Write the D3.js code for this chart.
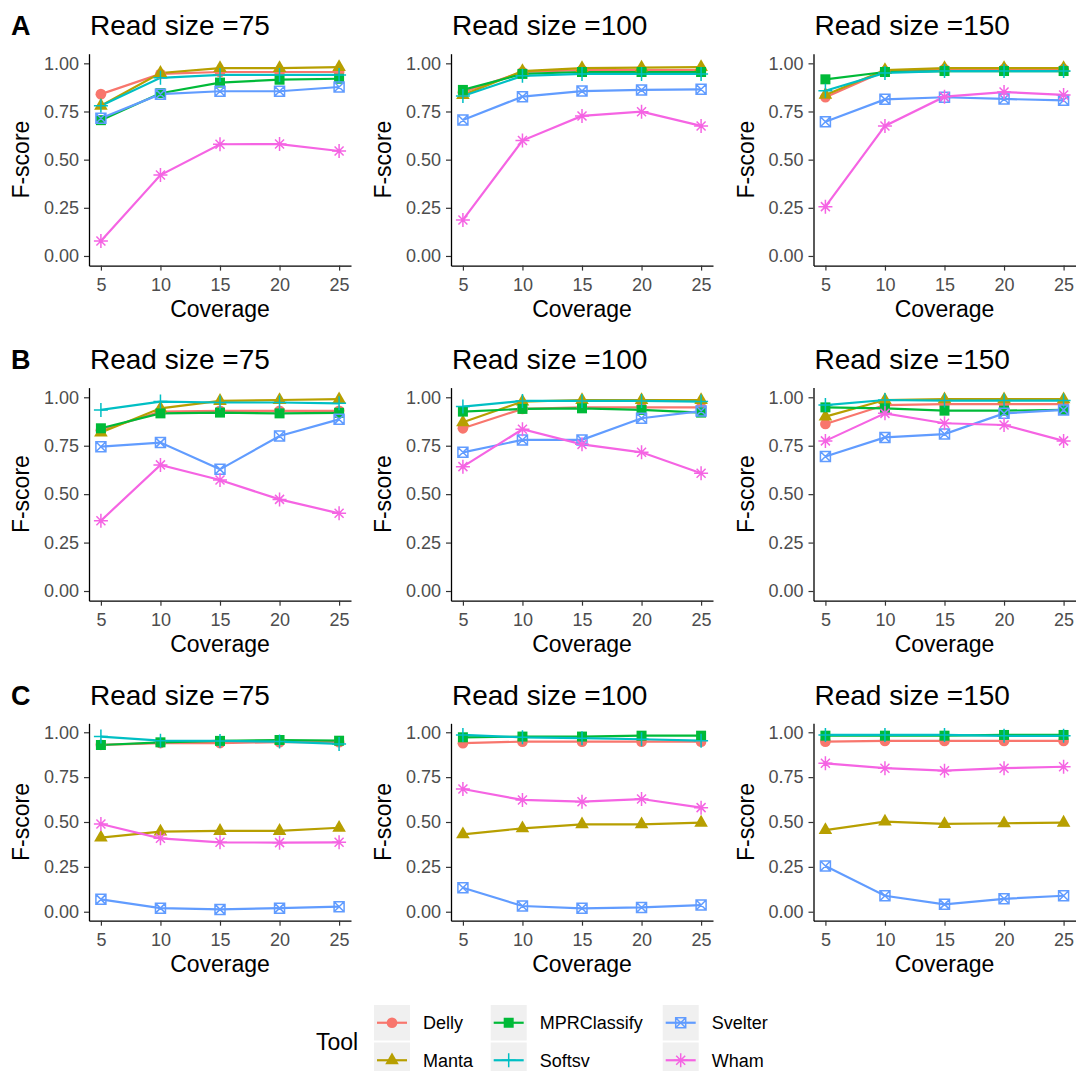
<!DOCTYPE html>
<html>
<head>
<meta charset="utf-8">
<script src="https://cdn.jsdelivr.net/npm/d3@7"></script>
<style>
  body { margin: 0; background: #fff; }
  svg { display: block; font-family: "Liberation Sans", Arial, sans-serif; }
</style>
</head>
<body>
<div id="chart"></div>
<script>
// data
const coverage = [5, 10, 15, 20, 25];
const tools = ["Delly", "Manta", "MPRClassify", "Softsv", "Svelter", "Wham"];
const toolColors = ["#F8766D", "#B79F00", "#00BA38", "#00BFC4", "#619CFF", "#F564E3"];
const toolShapes = ["circle", "triangle", "square", "plus", "squareCross", "asterisk"];
const readSizes = [75, 100, 150];
const rowLabels = ["A", "B", "C"];
const yTicks = [0, 0.25, 0.5, 0.75, 1];

// each panel: one row per tool, in the order of `tools`
const rowA75 = [
    [0.84, 0.945, 0.955, 0.955, 0.955],
    [0.78, 0.95, 0.975, 0.975, 0.98],
    [0.705, 0.845, 0.90, 0.915, 0.92],
    [0.78, 0.925, 0.94, 0.94, 0.94],
    [0.715, 0.84, 0.855, 0.855, 0.877],
    [0.078, 0.42, 0.58, 0.581, 0.545]
];
const rowA100 = [
    [0.85, 0.955, 0.965, 0.965, 0.965],
    [0.835, 0.96, 0.975, 0.978, 0.98],
    [0.862, 0.945, 0.955, 0.955, 0.955],
    [0.83, 0.935, 0.945, 0.945, 0.945],
    [0.706, 0.827, 0.856, 0.862, 0.865],
    [0.187, 0.599, 0.727, 0.749, 0.675]
];
const rowA150 = [
    [0.824, 0.96, 0.97, 0.97, 0.97],
    [0.836, 0.965, 0.975, 0.975, 0.975],
    [0.917, 0.955, 0.96, 0.96, 0.96],
    [0.858, 0.95, 0.96, 0.96, 0.96],
    [0.697, 0.813, 0.824, 0.815, 0.808],
    [0.256, 0.675, 0.827, 0.851, 0.836]
];
const rowB75 = [
    [0.83, 0.926, 0.93, 0.93, 0.93],
    [0.818, 0.943, 0.981, 0.986, 0.99],
    [0.84, 0.917, 0.921, 0.917, 0.92],
    [0.935, 0.978, 0.973, 0.973, 0.969],
    [0.745, 0.766, 0.628, 0.80, 0.886],
    [0.363, 0.651, 0.573, 0.473, 0.401]
];
const rowB100 = [
    [0.84, 0.94, 0.948, 0.948, 0.948],
    [0.871, 0.978, 0.986, 0.986, 0.986],
    [0.926, 0.94, 0.943, 0.935, 0.921],
    [0.952, 0.981, 0.981, 0.981, 0.978],
    [0.716, 0.78, 0.78, 0.892, 0.929],
    [0.642, 0.835, 0.757, 0.716, 0.608]
];
const rowB150 = [
    [0.862, 0.96, 0.965, 0.965, 0.965],
    [0.90, 0.986, 0.99, 0.99, 0.99],
    [0.948, 0.943, 0.931, 0.931, 0.935],
    [0.96, 0.986, 0.983, 0.983, 0.983],
    [0.694, 0.793, 0.81, 0.917, 0.935],
    [0.775, 0.917, 0.866, 0.857, 0.775]
];
const rowC75 = [
    [0.93, 0.94, 0.94, 0.945, 0.945],
    [0.413, 0.446, 0.45, 0.45, 0.468],
    [0.929, 0.944, 0.952, 0.957, 0.953],
    [0.976, 0.953, 0.952, 0.948, 0.935],
    [0.069, 0.02, 0.013, 0.02, 0.028],
    [0.489, 0.409, 0.387, 0.385, 0.387]
];
const rowC100 = [
    [0.939, 0.948, 0.948, 0.948, 0.948],
    [0.431, 0.465, 0.487, 0.487, 0.496],
    [0.972, 0.976, 0.976, 0.981, 0.981],
    [0.985, 0.972, 0.967, 0.961, 0.953],
    [0.134, 0.032, 0.019, 0.024, 0.037],
    [0.684, 0.623, 0.613, 0.628, 0.58]
];
const rowC150 = [
    [0.948, 0.952, 0.952, 0.952, 0.952],
    [0.455, 0.502, 0.489, 0.493, 0.496],
    [0.981, 0.981, 0.981, 0.985, 0.985],
    [0.985, 0.985, 0.985, 0.98, 0.98],
    [0.255, 0.089, 0.041, 0.072, 0.089],
    [0.827, 0.80, 0.786, 0.80, 0.808]
];
const panelData = [
    [rowA75, rowA100, rowA150],
    [rowB75, rowB100, rowB150],
    [rowC75, rowC100, rowC150]
];

const width = 1078, height = 1071;

// panel geometry (pixel positions of the axis frames)
const colLeft = [89, 451, 813.5];
const panelWidth = 262;
const rowTop = [53.7, 387.6, 723.3];
const rowBottom = [265.6, 600.7, 920.7];

const svg = d3.select("#chart").append("svg")
    .attr("width", width)
    .attr("height", height);

// marker path for a given ggplot-like shape, centred on 0,0
function markerPath(shape) {
    const s = 6;
    switch (shape) {
        case "circle": return d3.symbol(d3.symbolCircle, 90)();
        case "triangle": return d3.symbol(d3.symbolTriangle, 80)();
        case "square": return d3.symbol(d3.symbolSquare, 100)();
        case "plus": return `M${-s - 1},0H${s + 1}M0,${-s - 1}V${s + 1}`;
        case "squareCross": {
            const h = 5;
            return `M${-h},${-h}H${h}V${h}H${-h}ZM${-h},${-h}L${h},${h}M${h},${-h}L${-h},${h}`;
        }
        case "asterisk": {
            const d = s * 0.75;
            return `M${-s - 1},0H${s + 1}M0,${-s - 1}V${s + 1}M${-d},${-d}L${d},${d}M${d},${-d}L${-d},${d}`;
        }
    }
}

function drawMarker(g, shape, color) {
    const filled = shape === "circle" || shape === "triangle" || shape === "square";
    g.append("path")
        .attr("d", markerPath(shape))
        .attr("fill", filled ? color : "none")
        .attr("stroke", color)
        .attr("stroke-width", filled ? 0 : 1.5);
}

rowLabels.forEach((rowLabel, r) => {
    readSizes.forEach((readSize, c) => {
        const left = colLeft[c];
        const top = rowTop[r];
        const bottom = rowBottom[r];

        const x = d3.scaleLinear().domain([4, 26]).range([left, left + panelWidth]);
        const y = d3.scaleLinear().domain([-0.05, 1.05]).range([bottom, top]);

        const panel = svg.append("g");

        // axes
        const xAxis = panel.append("g")
            .attr("transform", `translate(0,${bottom})`)
            .call(d3.axisBottom(x).tickValues(coverage).tickSize(5).tickSizeOuter(0).tickPadding(4));
        const yAxis = panel.append("g")
            .attr("transform", `translate(${left},0)`)
            .call(d3.axisLeft(y).tickValues(yTicks).tickFormat(d3.format(".2f")).tickSize(5).tickSizeOuter(0).tickPadding(5));

        [xAxis, yAxis].forEach(ax => {
            ax.select(".domain").attr("stroke", "#000").attr("stroke-width", 1.3);
            ax.selectAll(".tick line").attr("stroke", "#333").attr("stroke-width", 1.2);
            ax.selectAll(".tick text")
                .attr("fill", "#4d4d4d")
                .style("font-size", "18px")
                .style("font-family", "'Liberation Sans', Arial, sans-serif");
        });
        xAxis.selectAll(".tick text").attr("dy", "0.9em");

        // axis titles
        panel.append("text")
            .attr("x", left + panelWidth / 2)
            .attr("y", bottom + 51)
            .attr("text-anchor", "middle")
            .style("font-size", "23px")
            .text("Coverage");
        panel.append("text")
            .attr("transform", `translate(${left - 60},${(top + bottom) / 2}) rotate(-90)`)
            .attr("text-anchor", "middle")
            .style("font-size", "23px")
            .text("F-score");

        // panel title
        panel.append("text")
            .attr("x", left + 1)
            .attr("y", top - 18.7)
            .style("font-size", "28px")
            .text(`Read size =${readSize}`);

        if (c === 0) {
            panel.append("text")
                .attr("x", 11)
                .attr("y", top - 18.7)
                .style("font-size", "27px")
                .style("font-weight", "bold")
                .text(rowLabel);
        }

        const series = panelData[r][c];
        const line = d3.line()
            .x((d, i) => x(coverage[i]))
            .y(d => y(d));

        // lines first, then points (geom_line + geom_point)
        panel.append("g")
            .selectAll("path")
            .data(series)
            .join("path")
            .attr("d", d => line(d))
            .attr("fill", "none")
            .attr("stroke", (d, i) => toolColors[i])
            .attr("stroke-width", 2.2);

        series.forEach((values, t) => {
            values.forEach((v, i) => {
                const g = panel.append("g")
                    .attr("transform", `translate(${x(coverage[i])},${y(v)})`);
                drawMarker(g, toolShapes[t], toolColors[t]);
            });
        });
    });
});

// legend
const legend = svg.append("g");
legend.append("text")
    .attr("x", 316)
    .attr("y", 1050)
    .style("font-size", "23px")
    .text("Tool");

const legendCols = [374, 490.7, 662.7];
const legendRows = [1005, 1042.5];
const keyW = 36, keyH = 35.5;

tools.forEach((tool, t) => {
    const kx = legendCols[Math.floor(t / 2)];
    const ky = legendRows[t % 2];
    const key = legend.append("g").attr("transform", `translate(${kx},${ky})`);
    key.append("rect")
        .attr("width", keyW)
        .attr("height", keyH)
        .attr("fill", "#f0f0f0");
    key.append("line")
        .attr("x1", 3).attr("x2", keyW - 3)
        .attr("y1", keyH / 2).attr("y2", keyH / 2)
        .attr("stroke", toolColors[t])
        .attr("stroke-width", 2.2);
    const m = key.append("g").attr("transform", `translate(${keyW / 2},${keyH / 2})`);
    drawMarker(m, toolShapes[t], toolColors[t]);

    legend.append("text")
        .attr("x", kx + 49)
        .attr("y", ky + keyH / 2 + 6.5)
        .style("font-size", "18px")
        .text(tool);
});
</script>
</body>
</html>
